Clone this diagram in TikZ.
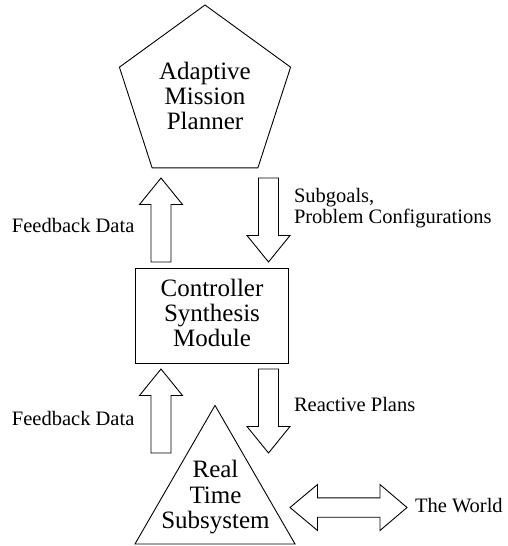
\documentclass[tikz,border=0pt]{standalone}
\usepackage{fontspec}
\setmainfont{Liberation Serif}
\usetikzlibrary{shapes.geometric}

% vertical block arrow: x, tail y, tip y
\newcommand\vblock[3]{%
  \pgfmathsetmacro\hbase{#3 + ((#2 > #3) ? 26.5 : -26.5)}%
  \draw[blockarrow] (#1-10,#2) -- (#1-10,\hbase) -- (#1-21.5,\hbase) -- (#1,#3)
    -- (#1+21.5,\hbase) -- (#1+10,\hbase) -- (#1+10,#2) -- cycle;}

\tikzset{
  outline/.style={draw=black, line width=0.9pt, inner sep=0pt, outer sep=0pt},
  blockarrow/.style={draw=black, line width=0.9pt, fill=white, line join=miter},
  txtbig/.style={inner sep=0pt, outer sep=0pt, anchor=base, font=\fontsize{25}{25}\selectfont},
  txtsmall/.style={inner sep=0pt, outer sep=0pt, anchor=base west, font=\fontsize{20.5}{21}\selectfont},
}

\begin{document}
\begin{tikzpicture}[x=1pt, y=-1pt]
  \fill[white] (0,0) rectangle (507,546);
  \useasboundingbox (0,0) rectangle (507,546);

  % the three levels: planner, synthesis module, real time subsystem
  \node[outline, regular polygon, regular polygon sides=5, minimum size=180pt] (planner) at (205,95) {};
  \node[outline, rectangle, minimum width=152.3pt, minimum height=94.3pt] (csm) at (212,316) {};
  \node[outline, regular polygon, regular polygon sides=3, minimum size=184.8pt] (rts) at (215,497.8) {};

  % block arrows between the levels
  \vblock{161}{262}{178}
  \vblock{268.5}{178}{262}
  \vblock{161}{453}{369}
  \vblock{268.5}{369}{453}

  % two-way exchange with the world
  \draw[blockarrow] (290,507.5) -- (317.5,484.5) -- (317.5,497.8) -- (380,497.8)
    -- (380,484.5) -- (407,507.5) -- (380,530.5) -- (380,517.2) -- (317.5,517.2)
    -- (317.5,530.5) -- cycle;

  % text of the levels
  \node[txtbig] (planner1) at (205,79) {Adaptive};
  \node[txtbig] (planner2) at (205,104) {Mission};
  \node[txtbig] (planner3) at (205,129) {Planner};
  \node[txtbig] (csm1) at (212,296.7) {Controller};
  \node[txtbig] (csm2) at (212,321.7) {Synthesis};
  \node[txtbig] (csm3) at (212,346.7) {Module};
  \node[txtbig] (rts1) at (215.5,477.5) {Real};
  \node[txtbig] (rts2) at (215.5,503) {Time};
  \node[txtbig] (rts3) at (215.5,528.5) {Subsystem};

  % arrow labels
  \node[txtsmall] (fbup) at (12,232.3) {Feedback Data};
  \node[txtsmall] (subgoals1) at (294,202) {Subgoals,};
  \node[txtsmall] (subgoals2) at (294,223.3) {Problem Configurations};
  \node[txtsmall] (fblow) at (12,425.7) {Feedback Data};
  \node[txtsmall] (plans) at (294,411) {Reactive Plans};
  \node[txtsmall] (world) at (415,512.3) {The World};
\end{tikzpicture}
\end{document}
